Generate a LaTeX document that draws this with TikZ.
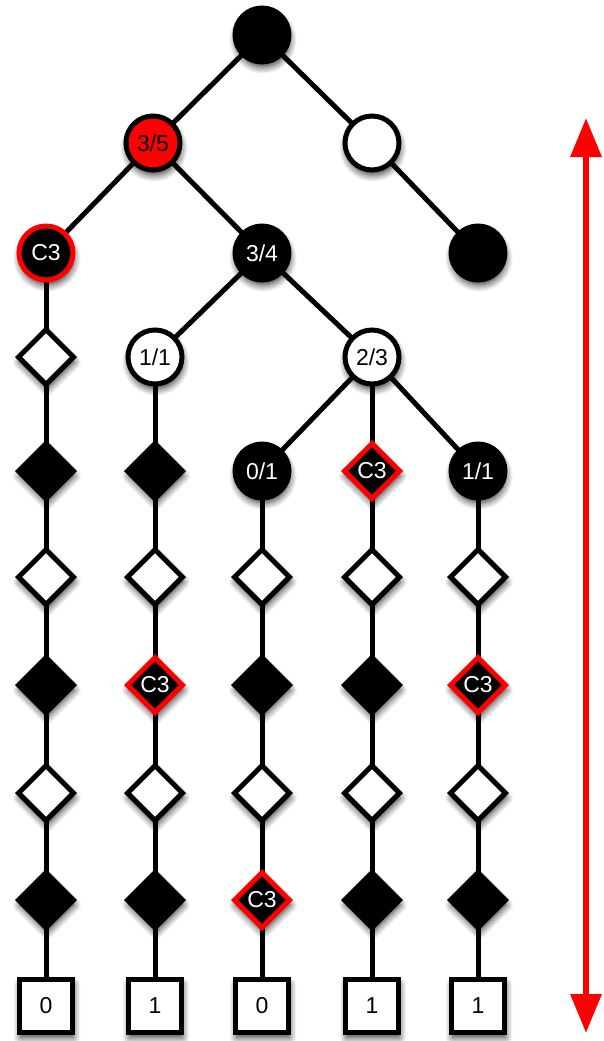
\documentclass[tikz,border=0pt]{standalone}
\usepackage{fontspec}
\setmainfont{Liberation Sans}
\usetikzlibrary{shapes.geometric,shadows.blur,arrows.meta,backgrounds}
\begin{document}
\begin{tikzpicture}[x=1pt,y=-1pt,
  base/.style={line width=5pt,draw=black,inner sep=0pt,font=\fontsize{23}{23}\selectfont,
    blur shadow={shadow xshift=1pt,shadow yshift=-5pt,shadow blur steps=8,shadow blur radius=7pt,shadow opacity=80}},
  bc/.style={base,circle,minimum size=54pt,fill=black,text=white},
  wc/.style={base,circle,minimum size=54pt,fill=white,text=black},
  rc/.style={base,circle,minimum size=54pt,fill=red,text=black},
  cc/.style={base,circle,minimum size=54pt,fill=black,draw=red,text=white},
  bd/.style={base,diamond,aspect=1,minimum width=57pt,minimum height=57pt,fill=black,text=white},
  wd/.style={base,diamond,aspect=1,minimum width=57pt,minimum height=57pt,fill=white},
  cd/.style={base,diamond,aspect=1,minimum width=57pt,minimum height=57pt,fill=black,draw=red,text=white},
  sq/.style={base,rectangle,minimum size=53pt,fill=white,text=black},
  edge/.style={line width=5pt,black},
  span/.style={line width=6.5pt,red,{Triangle[length=39pt,width=30pt]}-{Triangle[length=39pt,width=30pt]}}
]
\useasboundingbox (0,0) rectangle (604,1041);
% tree
\node[bc] (r) at (262,35) {};
\node[rc] (a) at (153,143) {3/5};
\node[wc] (b) at (372,143) {};
\node[cc] (c) at (46,253) {C3};
\node[bc] (d) at (262,253) {3/4};
\node[bc] (e) at (478,253) {};
\node[wd] (c1) at (46,357) {};
\node[wc] (f) at (155,357) {1/1};
\node[wc] (g) at (372,357) {2/3};
% row 471
\node[bd] (c2) at (46,471) {};
\node[bd] (f2) at (155,471) {};
\node[bc] (h) at (262,471) {0/1};
\node[cd] (i) at (372,471) {C3};
\node[bc] (j) at (478,471) {1/1};
% row 577
\node[wd] (c3) at (46,577) {};
\node[wd] (f3) at (155,577) {};
\node[wd] (h3) at (262,577) {};
\node[wd] (i3) at (372,577) {};
\node[wd] (j3) at (478,577) {};
% row 685
\node[bd] (c4) at (46,685) {};
\node[cd] (f4) at (155,685) {C3};
\node[bd] (h4) at (262,685) {};
\node[bd] (i4) at (372,685) {};
\node[cd] (j4) at (478,685) {C3};
% row 793
\node[wd] (c5) at (46,793) {};
\node[wd] (f5) at (155,793) {};
\node[wd] (h5) at (262,793) {};
\node[wd] (i5) at (372,793) {};
\node[wd] (j5) at (478,793) {};
% row 900
\node[bd] (c6) at (46,900) {};
\node[bd] (f6) at (155,900) {};
\node[cd] (h6) at (262,900) {C3};
\node[bd] (i6) at (372,900) {};
\node[bd] (j6) at (478,900) {};
% leaves
\node[sq] (c7) at (46,1006) {0};
\node[sq] (f7) at (155,1006) {1};
\node[sq] (h7) at (262,1006) {0};
\node[sq] (i7) at (372,1006) {1};
\node[sq] (j7) at (478,1006) {1};
% arrow ends
\coordinate (top) at (586,118);
\coordinate (bot) at (586,1033);
\draw[span] (top) -- (bot);
% edges
\begin{scope}[on background layer]
\draw[edge] (r.center) -- (a.center);
\draw[edge] (r.center) -- (b.center);
\draw[edge] (b.center) -- (e.center);
\draw[edge] (a.center) -- (c.center);
\draw[edge] (a.center) -- (d.center);
\draw[edge] (d.center) -- (f.center);
\draw[edge] (d.center) -- (g.center);
\draw[edge] (g.center) -- (h.center);
\draw[edge] (g.center) -- (i.center);
\draw[edge] (g.center) -- (j.center);
\draw[edge] (c.center) -- (c1.center) -- (c2.center) -- (c3.center) -- (c4.center) -- (c5.center) -- (c6.center) -- (c7.center);
\draw[edge] (f.center) -- (f2.center) -- (f3.center) -- (f4.center) -- (f5.center) -- (f6.center) -- (f7.center);
\draw[edge] (h.center) -- (h3.center) -- (h4.center) -- (h5.center) -- (h6.center) -- (h7.center);
\draw[edge] (i.center) -- (i3.center) -- (i4.center) -- (i5.center) -- (i6.center) -- (i7.center);
\draw[edge] (j.center) -- (j3.center) -- (j4.center) -- (j5.center) -- (j6.center) -- (j7.center);
\end{scope}
\end{tikzpicture}
\end{document}
